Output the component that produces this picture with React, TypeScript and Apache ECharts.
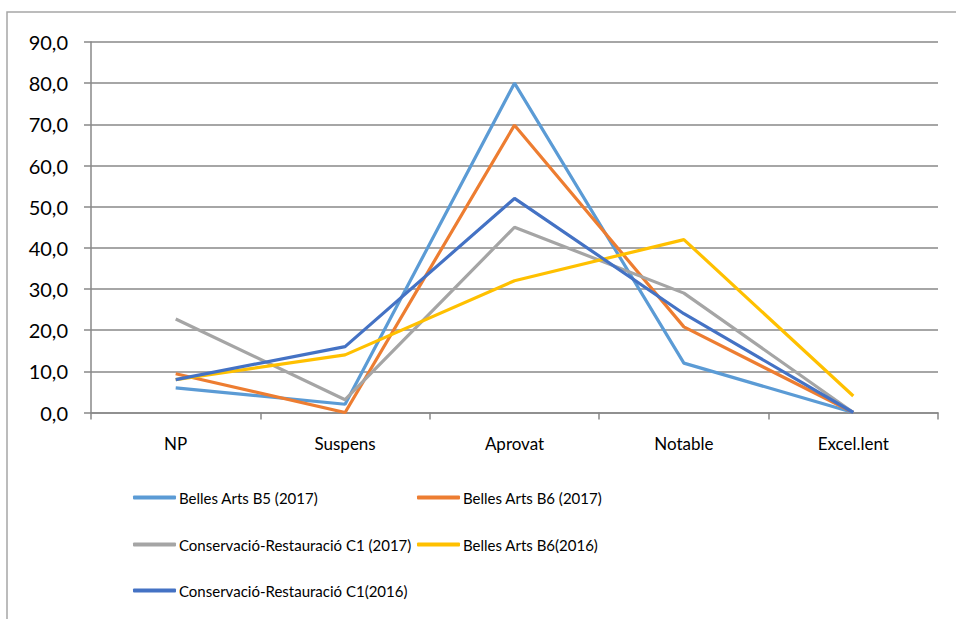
import React, { useEffect, useRef } from "react";
import * as echarts from "echarts";

const categories = ["NP", "Suspens", "Aprovat", "Notable", "Excel.lent"];
const seriesNames = [
  "Belles Arts B5 (2017)",
  "Belles Arts B6 (2017)",
  "Conservació-Restauració C1 (2017)",
  "Belles Arts B6(2016)",
  "Conservació-Restauració C1(2016)",
];
const b5_2017 = [6.0, 2.0, 80.0, 12.0, 0.0];
const b6_2017 = [9.4, 0.0, 69.8, 20.8, 0.0];
const c1_2017 = [22.7, 3.1, 45.0, 29.0, 0.0];
const b6_2016 = [8.0, 14.0, 32.0, 42.0, 4.0];
const c1_2016 = [8.0, 16.0, 52.0, 24.0, 0.0];
const seriesData = [b5_2017, b6_2017, c1_2017, b6_2016, c1_2016];
const colors = ["#5B9BD5", "#ED7D31", "#A5A5A5", "#FFC000", "#4472C4"];

const FONT = "Lato, 'Open Sans', 'DejaVu Sans', sans-serif";

export default function App() {
  const ref = useRef<HTMLDivElement>(null);
  useEffect(() => {
    if (!ref.current) return;
    const chart = echarts.init(ref.current, null, { renderer: "svg" });
    const legendPos = [
      { left: 133, top: 490 },
      { left: 417, top: 490 },
      { left: 133, top: 537 },
      { left: 417, top: 537 },
      { left: 133, top: 583 },
    ];
    chart.setOption({
      animation: false,
      color: colors,
      graphic: [
        {
          type: "rect",
          shape: { x: 7, y: 12, width: 1000, height: 700 },
          style: { fill: "none", stroke: "#A6A6A6", lineWidth: 1.5 },
          silent: true,
        },
      ],
      grid: { left: 91, right: 18, top: 42, height: 370.5, containLabel: false },
      legend: seriesNames.map((n, i) => ({
        data: [n],
        left: legendPos[i].left,
        top: legendPos[i].top,
        orient: "horizontal",
        icon: "roundRect",
        itemWidth: 43,
        itemHeight: 4,
        itemGap: 4,
        padding: 0,
        textStyle: { fontFamily: FONT, fontSize: 15, color: "#000", padding: [0, 0, 0, -2] },
        selectedMode: false,
      })),
      xAxis: {
        type: "category",
        data: categories,
        boundaryGap: true,
        axisLine: { lineStyle: { color: "#898989", width: 1.5 } },
        axisTick: { show: true, length: 7, lineStyle: { color: "#898989", width: 1.5 } },
        axisLabel: { margin: 22, fontFamily: FONT, fontSize: 17, color: "#000" },
      },
      yAxis: {
        type: "value",
        min: 0,
        max: 90,
        interval: 10,
        axisLine: { show: true, lineStyle: { color: "#898989", width: 1.5 } },
        axisTick: { show: true, length: 7, lineStyle: { color: "#898989", width: 1.5 } },
        splitLine: { lineStyle: { color: "#898989", width: 1.5 } },
        axisLabel: {
          margin: 23,
          fontFamily: FONT,
          fontSize: 20,
          color: "#000",
          formatter: (v: number) => v.toFixed(1).replace(".", ","),
        },
      },
      series: seriesNames.map((n, i) => ({
        name: n,
        type: "line",
        data: seriesData[i],
        symbol: "none",
        lineStyle: { width: 3.2, color: colors[i] },
        itemStyle: { color: colors[i] },
        z: 2 + i,
      })),
    });
    return () => chart.dispose();
  }, []);
  return (
    <div
      ref={ref}
      style={{ position: "absolute", left: 0, top: 0, width: 956, height: 619, background: "#fff" }}
    />
  );
}
